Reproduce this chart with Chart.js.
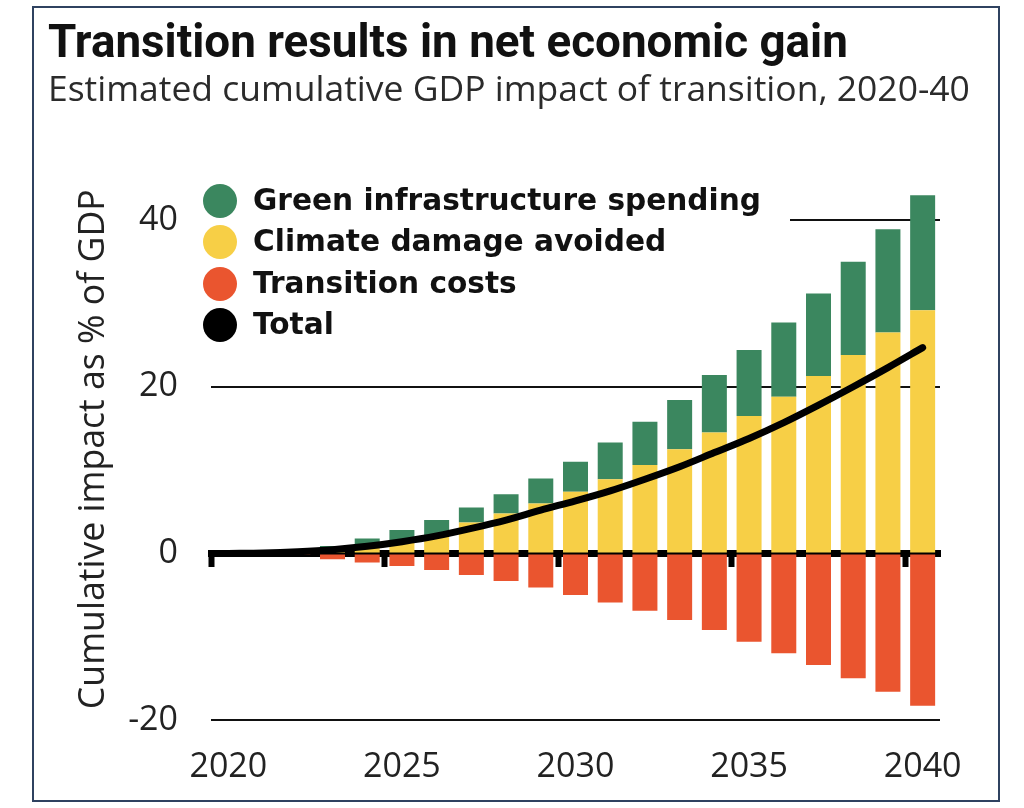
<!DOCTYPE html>
<html><head><meta charset="utf-8">
<script src="https://cdn.jsdelivr.net/npm/chart.js@4.4.1/dist/chart.umd.min.js"></script>
<style>
html,body{margin:0;padding:0;background:#fff;width:1024px;height:808px;overflow:hidden;}
#frame{position:absolute;left:32px;top:6px;width:964px;height:792px;border:2px solid #2f4260;}
#title{position:absolute;left:48px;top:19px;font-family:Roboto;font-weight:700;color:#111;white-space:nowrap;line-height:1;}
#subtitle{position:absolute;left:48px;top:70px;font-family:'Open Sans';font-weight:400;color:#2b2b2b;white-space:nowrap;line-height:1;}
#c{position:absolute;left:0;top:0;}
#legend{position:absolute;left:200px;top:180px;width:590px;background:linear-gradient(#fff,#fff) no-repeat;background-size:100% 84px;}
.row{display:flex;align-items:center;height:41.5px;}
.dot{width:34px;height:34px;border-radius:50%;margin-left:3px;margin-right:16px;flex:none;}
.lab{font-family:'DejaVu Sans';font-weight:700;color:#111;white-space:nowrap;line-height:1;}
</style></head>
<body>
<div id="frame"></div>
<canvas id="c" width="1024" height="808"></canvas>
<div id="title">Transition results in net economic gain</div>
<div id="subtitle">Estimated cumulative GDP impact of transition, 2020-40</div>
<div id="legend"></div>
<script>
// ---- data ----
const years = ['2020','2021','2022','2023','2024','2025','2026','2027','2028','2029','2030',
               '2031','2032','2033','2034','2035','2036','2037','2038','2039','2040'];
const tickYears = ['2020','2025','2030','2035','2040'];
const greenInfra = [0, 0, 0.1, 0.7, 1.1, 1.5, 1.8, 1.8, 2.3, 3.0, 3.6, 4.4, 5.2, 5.9, 6.9, 7.9, 8.9, 9.9, 11.2, 12.4, 13.8];
const climateAvoided = [0, 0, 0.05, 0.2, 0.7, 1.3, 2.2, 3.7, 4.8, 6.0, 7.4, 8.9, 10.6, 12.5, 14.5, 16.5, 18.8, 21.3, 23.8, 26.5, 29.2];
const transitionCosts = [0, -0.05, -0.2, -0.7, -1.1, -1.5, -2.0, -2.6, -3.3, -4.1, -5.0, -5.9, -6.9, -8.0, -9.2, -10.6, -12.0, -13.4, -15.0, -16.6, -18.3];
const total = [0, 0.05, 0.2, 0.45, 0.85, 1.4, 2.1, 3.0, 4.0, 5.2, 6.3, 7.5, 8.9, 10.4, 12.1, 13.8, 15.7, 17.8, 20.0, 22.3, 24.7];
const yTickValues = [-20, 0, 20, 40];

const seriesNames = ['Green infrastructure spending','Climate damage avoided','Transition costs','Total'];
const seriesColors = ['#3b875f','#f7cf46','#ea552f','#000000'];

const titleText = 'Transition results in net economic gain';
const subtitleText = 'Estimated cumulative GDP impact of transition, 2020-40';
const yTitleText = 'Cumulative impact as % of GDP';

// ---- text sizing ----
function fitSize(text, weight, family, target) {
  const c = document.createElement('canvas').getContext('2d');
  c.font = weight + ' 100px "' + family + '"';
  return 100 * target / c.measureText(text).width;
}
document.getElementById('title').style.fontSize = fitSize(titleText, 700, 'Roboto', 800) + 'px';
document.getElementById('subtitle').style.fontSize = fitSize(subtitleText, 400, 'Open Sans', 922) + 'px';
const legendSize = fitSize(seriesNames[0], 700, 'DejaVu Sans', 508);
const yTitleSize = fitSize(yTitleText, 400, 'Open Sans', 520);

// ---- legend ----
const legend = document.getElementById('legend');
seriesNames.forEach((name, i) => {
  const row = document.createElement('div'); row.className = 'row';
  const dot = document.createElement('span'); dot.className = 'dot'; dot.style.background = seriesColors[i];
  const lab = document.createElement('span'); lab.className = 'lab'; lab.textContent = name; lab.style.fontSize = legendSize + 'px';
  row.appendChild(dot); row.appendChild(lab); legend.appendChild(row);
});

// ---- chart ----
Chart.defaults.font.family = 'Open Sans';
Chart.defaults.color = '#222';

new Chart(document.getElementById('c'), {
  data: {
    labels: years,
    datasets: [
      { type: 'line', label: seriesNames[3], data: total, stack: 'net', order: -1,
        borderColor: seriesColors[3], borderWidth: 7, pointRadius: 0, tension: 0.4,
        cubicInterpolationMode: 'monotone', borderCapStyle: 'round', fill: false },
      { type: 'bar', label: seriesNames[1], data: climateAvoided, stack: 'a', backgroundColor: seriesColors[1],
        barPercentage: 0.72, categoryPercentage: 1 },
      { type: 'bar', label: seriesNames[0], data: greenInfra, stack: 'a', backgroundColor: seriesColors[0],
        barPercentage: 0.72, categoryPercentage: 1 },
      { type: 'bar', label: seriesNames[2], data: transitionCosts, stack: 'a', backgroundColor: seriesColors[2],
        barPercentage: 0.72, categoryPercentage: 1 }
    ]
  },
  options: {
    responsive: false,
    animation: false,
    layout: { padding: { left: 68, top: 178.5, right: 84, bottom: 0 } },
    plugins: { legend: { display: false }, tooltip: { enabled: false } },
    scales: {
      x: {
        type: 'category', position: 'bottom', offset: true, stacked: true,
        grid: { display: false, drawTicks: false, offset: true },
        border: { display: false },
        ticks: {
          autoSkip: false, maxRotation: 0, padding: 27,
          font: { size: 34 }, color: '#222',
          callback: (v, i) => tickYears.includes(years[i]) ? years[i] : ''
        },
        afterFit: (s) => { s.height = 88; }
      },
      x2: {
        type: 'category', axis: 'x', position: { y: 0 }, offset: true, z: 1,
        grid: {
          offset: true, drawOnChartArea: false, drawTicks: true, tickLength: 10, tickWidth: 6,
          tickColor: (ctx) => tickYears.includes(years[ctx.index]) ? '#000' : 'rgba(0,0,0,0)'
        },
        border: { display: true, width: 7, color: '#000' },
        ticks: { display: false }
      },
      y: {
        type: 'linear', position: 'left', stacked: true, min: -20, max: 45,
        afterBuildTicks: (s) => { s.ticks = yTickValues.map(v => ({ value: v })); },
        ticks: { includeBounds: false, padding: 33, font: { size: 34 }, color: '#222' },
        grid: {
          drawTicks: false, lineWidth: 2,
          color: (ctx) => (ctx.tick && ctx.tick.value === 0) ? 'rgba(0,0,0,0)' : '#111'
        },
        border: { display: false },
        title: { display: true, text: yTitleText, font: { size: yTitleSize }, color: '#222', padding: { top: 4, bottom: 4 } },
        afterFit: (s) => { s.width = 143; }
      }
    }
  }
});
</script>
</body></html>
